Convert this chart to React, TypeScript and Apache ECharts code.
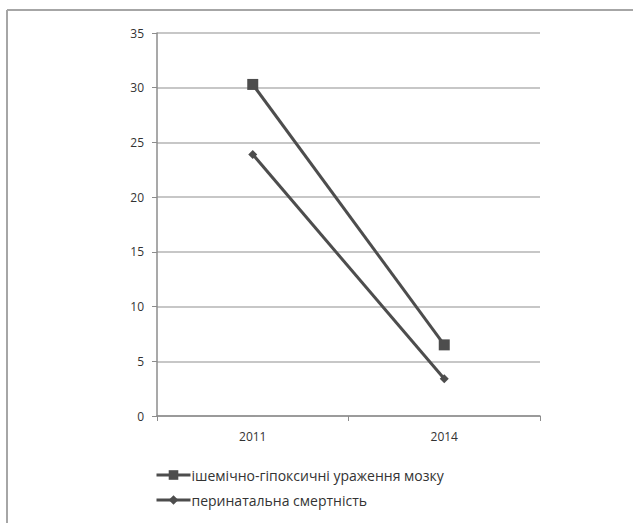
import React, { useEffect, useRef } from "react";
import * as echarts from "echarts";

const categories = ["2011", "2014"];
const seriesNames = ["ішемічно-гіпоксичні ураження мозку", "перинатальна смертність"];
const brainValues = [30.3, 6.5];
const mortalityValues = [23.9, 3.4];

export default function App() {
  const ref = useRef<HTMLDivElement>(null);
  useEffect(() => {
    const chart = echarts.init(ref.current!, null, { renderer: "svg" });
    const lineColor = "#4d4d4d";
    chart.setOption({
      animation: false,
      backgroundColor: "#ffffff",
      textStyle: { fontFamily: "Open Sans, DejaVu Sans, sans-serif" },
      graphic: [
        { type: "line", shape: { x1: 7, y1: 10, x2: 633, y2: 10 }, style: { stroke: "#a6a6a6", lineWidth: 2 } },
        { type: "line", shape: { x1: 7, y1: 10, x2: 7, y2: 523 }, style: { stroke: "#a6a6a6", lineWidth: 2 } },
      ],
      grid: { left: 157, right: 93, top: 33, bottom: 107, containLabel: false },
      xAxis: {
        type: "category",
        data: categories,
        boundaryGap: true,
        axisLine: { lineStyle: { color: "#8c8c8c", width: 1.5 } },
        axisTick: { show: true, length: 5, lineStyle: { color: "#8c8c8c" } },
        axisLabel: { color: "#333333", fontSize: 12, margin: 14 },
      },
      yAxis: {
        type: "value",
        min: 0,
        max: 35,
        interval: 5,
        axisLine: { show: true, lineStyle: { color: "#8c8c8c", width: 1.5 } },
        axisTick: { show: true, length: 5, lineStyle: { color: "#8c8c8c" } },
        axisLabel: { color: "#333333", fontSize: 12, margin: 13 },
        splitLine: { lineStyle: { color: "#b5b5b5", width: 1.5 } },
      },
      legend: {
        orient: "vertical",
        left: 150,
        top: 463,
        itemGap: 11,
        itemWidth: 34,
        itemHeight: 12,
        textStyle: { color: "#333333", fontSize: 14, padding: [0, 0, 0, -4] },
        lineStyle: { width: 3, color: lineColor },
        data: seriesNames,
      },
      series: [
        {
          name: seriesNames[0],
          type: "line",
          data: brainValues,
          symbol: "rect",
          symbolSize: 11,
          lineStyle: { color: lineColor, width: 3 },
          itemStyle: { color: lineColor },
        },
        {
          name: seriesNames[1],
          type: "line",
          data: mortalityValues,
          symbol: "diamond",
          symbolSize: 9,
          lineStyle: { color: lineColor, width: 3 },
          itemStyle: { color: lineColor },
        },
      ],
    });
    return () => chart.dispose();
  }, []);
  return (
    <div
      ref={ref}
      style={{ position: "fixed", left: 0, top: 0, width: 633, height: 523 }}
    />
  );
}
